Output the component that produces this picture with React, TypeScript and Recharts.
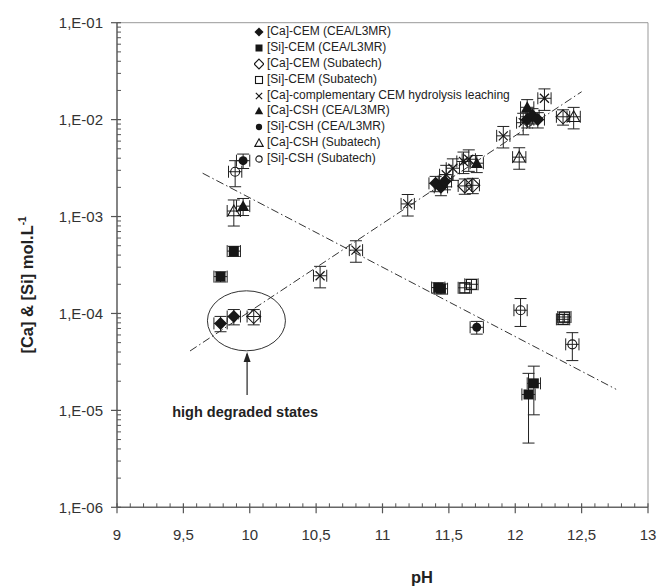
import React from "react";
import {
  ScatterChart,
  Scatter,
  XAxis,
  YAxis,
  ErrorBar,
  ReferenceLine,
  ReferenceDot,
  Legend,
} from "recharts";

type Pt = { pH: number; c: number; e?: number; lo?: number; hi?: number };
type Kind = "diamondF" | "squareF" | "diamondO" | "squareO" | "x" | "triF" | "circF" | "triO" | "circO";

// [Ca]-CEM (CEA/L3MR)
const caCemCea: Pt[] = [
  { pH: 9.78, c: 7.9e-5 },
  { pH: 9.88, c: 9.3e-5 },
  { pH: 11.4, c: 2.2e-3 },
  { pH: 11.44, c: 2.0e-3 },
  { pH: 11.47, c: 2.3e-3 },
  { pH: 12.09, c: 1.0e-2 },
  { pH: 12.13, c: 1.1e-2 },
  { pH: 12.17, c: 1.0e-2 },
];
// [Si]-CEM (CEA/L3MR)
const siCemCea: Pt[] = [
  { pH: 9.78, c: 2.4e-4, e: 0.12 },
  { pH: 9.88, c: 4.4e-4, e: 0.12 },
  { pH: 11.42, c: 1.85e-4, e: 0.12 },
  { pH: 11.44, c: 1.8e-4, e: 0.12 },
  { pH: 12.1, c: 1.46e-5, lo: 1.0e-5, hi: 0.95e-5 },
  { pH: 12.14, c: 1.9e-5, lo: 1.0e-5, hi: 0.96e-5 },
];
// [Ca]-CEM (Subatech)
const caCemSub: Pt[] = [
  { pH: 10.03, c: 9.3e-5 },
  { pH: 11.62, c: 2.07e-3 },
  { pH: 11.68, c: 2.1e-3 },
  { pH: 12.36, c: 1.07e-2 },
];
// [Si]-CEM (Subatech)
const siCemSub: Pt[] = [
  { pH: 11.62, c: 1.84e-4, e: 0.12 },
  { pH: 11.67, c: 2.0e-4, e: 0.12 },
  { pH: 12.36, c: 8.7e-5, e: 0.12 },
  { pH: 12.37, c: 9.2e-5, e: 0.12 },
];
// [Ca]-complementary CEM hydrolysis leaching
const caLeach: Pt[] = [
  { pH: 10.53, c: 2.45e-4, e: 0.25 },
  { pH: 10.8, c: 4.5e-4, e: 0.25 },
  { pH: 11.19, c: 1.35e-3, e: 0.25 },
  { pH: 11.48, c: 2.7e-3, e: 0.25 },
  { pH: 11.53, c: 3.15e-3, e: 0.25 },
  { pH: 11.61, c: 3.7e-3, e: 0.25 },
  { pH: 11.65, c: 3.9e-3, e: 0.25 },
  { pH: 11.91, c: 6.8e-3, e: 0.25 },
  { pH: 12.06, c: 9.3e-3, e: 0.25 },
  { pH: 12.22, c: 1.66e-2, e: 0.25 },
];
// [Ca]-CSH (CEA/L3MR)
const caCshCea: Pt[] = [
  { pH: 9.95, c: 1.28e-3, e: 0.2 },
  { pH: 11.71, c: 3.55e-3, e: 0.2 },
  { pH: 12.09, c: 1.34e-2, e: 0.2 },
];
// [Si]-CSH (CEA/L3MR)
const siCshCea: Pt[] = [
  { pH: 9.95, c: 3.77e-3, e: 0.17 },
  { pH: 11.71, c: 7.2e-5, e: 0.15 },
];
// [Ca]-CSH (Subatech)
const caCshSub: Pt[] = [
  { pH: 9.88, c: 1.14e-3, e: 0.3 },
  { pH: 12.03, c: 4.1e-3, e: 0.25 },
  { pH: 12.44, c: 1.07e-2, e: 0.25 },
];
// [Si]-CSH (Subatech)
const siCshSub: Pt[] = [
  { pH: 9.89, c: 2.9e-3, e: 0.3 },
  { pH: 12.04, c: 1.08e-4, e: 0.32 },
  { pH: 12.43, c: 4.8e-5, e: 0.32 },
];

// dash-dot trend lines
const fitUp: Pt[] = [
  { pH: 9.55, c: 4.1e-5 },
  { pH: 12.5, c: 1.94e-2 },
];
const fitDown: Pt[] = [
  { pH: 9.645, c: 2.8e-3 },
  { pH: 12.76, c: 1.65e-5 },
];

const xMajor = [9, 9.5, 10, 10.5, 11, 11.5, 12, 12.5, 13];
const xLabels = ["9", "9,5", "10", "10,5", "11", "11,5", "12", "12,5", "13"];
const yMajor = [1e-6, 1e-5, 1e-4, 1e-3, 1e-2, 1e-1];
const yLabels = ["1,E-06", "1,E-05", "1,E-04", "1,E-03", "1,E-02", "1,E-01"];

const xTicks: number[] = [];
for (let i = 0; i <= 40; i++) xTicks.push(Math.round((9 + i / 10) * 10) / 10);
const yTicks: number[] = [];
for (let d = -6; d < -1; d++) for (let m = 1; m < 10; m++) yTicks.push(m * Math.pow(10, d));
yTicks.push(1e-1);

const series: { name: string; data: Pt[]; kind: Kind }[] = [
  { name: "[Ca]-CEM (CEA/L3MR)", data: caCemCea, kind: "diamondF" },
  { name: "[Si]-CEM (CEA/L3MR)", data: siCemCea, kind: "squareF" },
  { name: "[Ca]-CEM (Subatech)", data: caCemSub, kind: "diamondO" },
  { name: "[Si]-CEM (Subatech)", data: siCemSub, kind: "squareO" },
  { name: "[Ca]-complementary CEM hydrolysis leaching", data: caLeach, kind: "x" },
  { name: "[Ca]-CSH (CEA/L3MR)", data: caCshCea, kind: "triF" },
  { name: "[Si]-CSH (CEA/L3MR)", data: siCshCea, kind: "circF" },
  { name: "[Ca]-CSH (Subatech)", data: caCshSub, kind: "triO" },
  { name: "[Si]-CSH (Subatech)", data: siCshSub, kind: "circO" },
];

const INK = "#161616";
const FONT = "'Liberation Sans', Arial, sans-serif";

const withErr = (d: Pt[]) =>
  d.map((p) => {
    const e = p.e ?? 0.18;
    return { ...p, errY: [p.lo ?? p.c * e, p.hi ?? p.c * e], errX: 0.05 };
  });

const Mark = ({ kind, cx, cy, s = 1 }: { kind: Kind; cx: number; cy: number; s?: number }) => {
  switch (kind) {
    case "diamondF": {
      const r = 6.5 * s;
      return <polygon points={`${cx},${cy - r} ${cx + r},${cy} ${cx},${cy + r} ${cx - r},${cy}`} fill={INK} />;
    }
    case "squareF": {
      const r = 5 * s;
      return <rect x={cx - r} y={cy - r} width={2 * r} height={2 * r} fill={INK} />;
    }
    case "diamondO": {
      const r = 7 * s;
      return (
        <polygon
          points={`${cx},${cy - r} ${cx + r},${cy} ${cx},${cy + r} ${cx - r},${cy}`}
          fill="none"
          stroke={INK}
          strokeWidth={1.1}
        />
      );
    }
    case "squareO": {
      const r = 5 * s;
      return <rect x={cx - r} y={cy - r} width={2 * r} height={2 * r} fill="none" stroke={INK} strokeWidth={1.1} />;
    }
    case "x": {
      const r = 4.5 * s;
      return (
        <g stroke={INK} strokeWidth={1.2}>
          <line x1={cx - r} y1={cy - r} x2={cx + r} y2={cy + r} />
          <line x1={cx - r} y1={cy + r} x2={cx + r} y2={cy - r} />
        </g>
      );
    }
    case "triF":
    case "triO": {
      const r = 6 * s;
      const pts = `${cx},${cy - r} ${cx + r},${cy + r * 0.8} ${cx - r},${cy + r * 0.8}`;
      return kind === "triF" ? (
        <polygon points={pts} fill={INK} />
      ) : (
        <polygon points={pts} fill="none" stroke={INK} strokeWidth={1.1} />
      );
    }
    case "circF":
      return <circle cx={cx} cy={cy} r={4.5 * s} fill={INK} />;
    case "circO":
      return <circle cx={cx} cy={cy} r={4.5 * s} fill="none" stroke={INK} strokeWidth={1.1} />;
  }
  return null;
};

const XTick = (props: any) => {
  const { x, y, payload } = props;
  const i = xMajor.findIndex((m) => Math.abs(m - payload.value) < 1e-6);
  if (i < 0) return <line x1={x} x2={x} y1={y} y2={y - 4} stroke="#555" />;
  return (
    <g>
      <line x1={x} x2={x} y1={y - 4} y2={y + 6} stroke="#555" strokeWidth={1.2} />
      <text x={x} y={y + 33} textAnchor="middle" fontSize={15} fill="#333" fontFamily={FONT}>
        {xLabels[i]}
      </text>
    </g>
  );
};

const YTick = (props: any) => {
  const { x, y, payload } = props;
  const i = yMajor.findIndex((m) => Math.abs(Math.log10(m) - Math.log10(payload.value)) < 1e-6);
  if (i < 0) return <line x1={x} x2={x + 4} y1={y} y2={y} stroke="#555" />;
  return (
    <g>
      <line x1={x - 6} x2={x + 4} y1={y} y2={y} stroke="#555" strokeWidth={1.2} />
      <text x={x - 14} y={y} dy="0.35em" textAnchor="end" fontSize={15} fill="#333" fontFamily={FONT}>
        {yLabels[i]}
      </text>
    </g>
  );
};

const LegendBox = () => (
  <div style={{ fontFamily: FONT, fontSize: 12, color: "#222", lineHeight: "15.9px" }}>
    {series.map((s) => (
      <div key={s.name} style={{ display: "flex", alignItems: "center", height: 15.9, whiteSpace: "nowrap" }}>
        <svg width={10} height={12} style={{ marginRight: 3 }}>
          <Mark kind={s.kind} cx={5} cy={6} s={0.7} />
        </svg>
        {s.name}
      </div>
    ))}
  </div>
);

export default function App() {
  return (
    <div style={{ position: "absolute", left: 0, top: 0, width: 657, height: 588, background: "#fff" }}>
      <ScatterChart width={657} height={588} margin={{ top: 22.7, right: 9, bottom: 50.7, left: 57 }}>
        <XAxis
          type="number"
          dataKey="pH"
          domain={[9, 13]}
          ticks={xTicks}
          interval={0}
          allowDataOverflow
          height={30}
          tickSize={0}
          tickMargin={0}
          tick={<XTick />}
          axisLine={{ stroke: "#666", strokeWidth: 1.6 }}
        />
        <YAxis
          type="number"
          dataKey="c"
          scale="log"
          domain={[1e-6, 1e-1]}
          ticks={yTicks}
          interval={0}
          allowDataOverflow
          width={60}
          tickSize={0}
          tickMargin={0}
          tick={<YTick />}
          axisLine={{ stroke: "#666", strokeWidth: 1.6 }}
        />
        <ReferenceLine y={1e-1} stroke="#999" strokeWidth={1} />
        <ReferenceLine x={13} stroke="#999" strokeWidth={1} />
        <Scatter
          data={fitUp}
          line={{ stroke: "#333", strokeWidth: 1, strokeDasharray: "8 3 1.5 3" }}
          shape={() => <g />}
          legendType="none"
          isAnimationActive={false}
        />
        <Scatter
          data={fitDown}
          line={{ stroke: "#333", strokeWidth: 1, strokeDasharray: "8 3 1.5 3" }}
          shape={() => <g />}
          legendType="none"
          isAnimationActive={false}
        />
        {series.map((s) => (
          <Scatter
            key={s.name}
            name={s.name}
            data={withErr(s.data)}
            isAnimationActive={false}
            shape={(p: any) => <Mark kind={s.kind} cx={p.cx} cy={p.cy} />}
          >
            <ErrorBar dataKey="errY" direction="y" width={6} stroke="#222" strokeWidth={1} />
            <ErrorBar dataKey="errX" direction="x" width={6} stroke="#222" strokeWidth={1} />
          </Scatter>
        ))}
        <ReferenceDot
          x={9.975}
          y={8.4e-5}
          shape={(p: any) => <ellipse cx={p.cx} cy={p.cy} rx={39} ry={30} fill="none" stroke="#333" strokeWidth={1} />}
        />
        <ReferenceDot
          x={9.98}
          y={4.0e-5}
          shape={(p: any) => (
            <g>
              <line x1={p.cx} y1={p.cy + 2} x2={p.cx} y2={p.cy + 43} stroke="#222" strokeWidth={1.2} />
              <polygon points={`${p.cx},${p.cy} ${p.cx - 3.5},${p.cy + 10} ${p.cx + 3.5},${p.cy + 10}`} fill="#222" />
              <text
                x={p.cx - 2}
                y={p.cy + 65}
                textAnchor="middle"
                fontSize={14.5}
                fontWeight="bold"
                fill="#222"
                fontFamily={FONT}
              >
                high degraded states
              </text>
            </g>
          )}
        />
        <Legend
          layout="vertical"
          align="center"
          verticalAlign="middle"
          content={() => <LegendBox />}
          wrapperStyle={{ position: "absolute", left: 254, top: 24, width: "auto", height: "auto" }}
        />
      </ScatterChart>
      <div
        style={{
          position: "absolute",
          left: 27,
          top: 285,
          transform: "translate(-50%, -50%) rotate(-90deg)",
          fontFamily: FONT,
          fontWeight: "bold",
          fontSize: 16.5,
          color: "#222",
          whiteSpace: "nowrap",
        }}
      >
        [Ca] &amp; [Si] mol.L<sup style={{ fontSize: 10 }}>-1</sup>
      </div>
      <div
        style={{
          position: "absolute",
          left: 422,
          top: 577,
          transform: "translate(-50%, -50%)",
          fontFamily: FONT,
          fontWeight: "bold",
          fontSize: 16.5,
          color: "#222",
        }}
      >
        pH
      </div>
    </div>
  );
}
